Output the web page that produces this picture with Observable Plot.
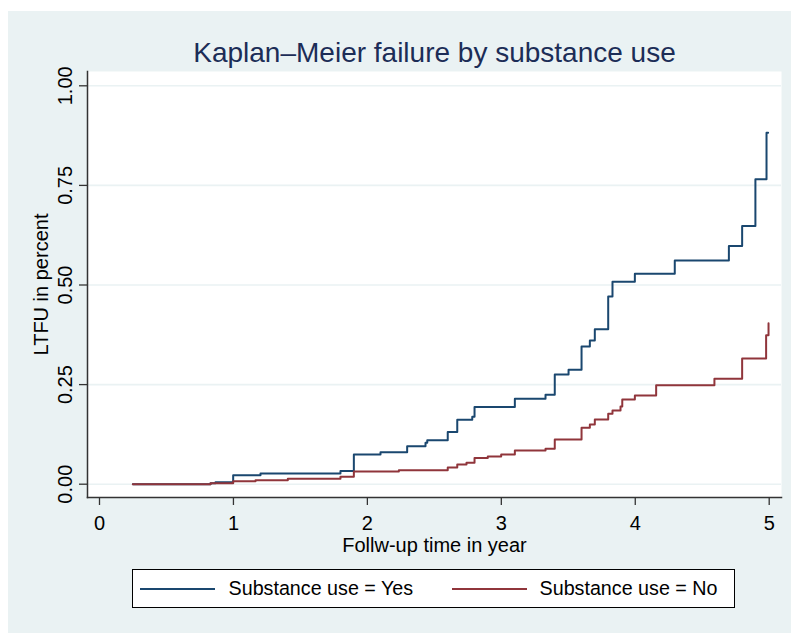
<!DOCTYPE html>
<html><head><meta charset="utf-8">
<script src="https://cdn.jsdelivr.net/npm/d3@7"></script>
<script src="https://cdn.jsdelivr.net/npm/@observablehq/plot@0.6"></script>
<style>
html,body{margin:0;padding:0;background:#fff;}
#wrap{position:absolute;left:8px;top:11px;width:783px;height:622px;background:#eaf2f3;font-family:"Liberation Sans",Arial,sans-serif;}
#chart{position:absolute;left:0;top:0;}
#legend{position:absolute;left:123.7px;top:558.3px;width:601.6px;height:37px;border:1px solid #000;background:#fff;font-size:19.7px;color:#000;}
#legend .sw{position:absolute;top:17.4px;height:2px;width:75px;}
#legend .lb{position:absolute;top:0;line-height:37px;white-space:nowrap;}
</style></head>
<body>
<div id="wrap"><div id="chart"></div><div id="legend"></div></div>
<script>
const titleText = "Kaplan–Meier failure by substance use";
const xLabel = "Follw-up time in year";
const yLabel = "LTFU in percent";
const seriesNames = ["Substance use = Yes", "Substance use = No"];
const seriesColors = ["#1a476f", "#90353b"];
const xTicks = [0, 1, 2, 3, 4, 5];
const xTickLabels = ["0", "1", "2", "3", "4", "5"];
const yTicks = [0, 0.25, 0.5, 0.75, 1];
const yTickLabels = ["0.00", "0.25", "0.50", "0.75", "1.00"];

const yesTime = [0.249, 0.829, 0.866, 0.998, 1.202, 1.799, 1.899, 2.098, 2.297, 2.434, 2.447, 2.600, 2.671, 2.783, 2.800, 3.101, 3.330, 3.399, 3.502, 3.599, 3.661, 3.698, 3.798, 3.830, 3.997, 4.295, 4.699, 4.798, 4.897, 4.980, 4.992];
const yesFail = [0, 0.0025, 0.005, 0.0226, 0.027, 0.033, 0.0746, 0.080, 0.0954, 0.104, 0.1105, 0.131, 0.1616, 0.169, 0.194, 0.2144, 0.2244, 0.2755, 0.287, 0.3456, 0.3607, 0.389, 0.471, 0.508, 0.528, 0.5615, 0.598, 0.6484, 0.7656, 0.882, 0.882];
const noTime = [0.249, 0.829, 0.998, 1.165, 1.406, 1.799, 1.899, 2.235, 2.600, 2.671, 2.740, 2.800, 2.899, 2.999, 3.101, 3.330, 3.399, 3.599, 3.661, 3.698, 3.798, 3.830, 3.890, 3.903, 3.997, 4.156, 4.591, 4.798, 4.977, 4.995];
const noFail = [0, 0.0025, 0.0075, 0.010, 0.0136, 0.019, 0.032, 0.035, 0.042, 0.0494, 0.0537, 0.066, 0.0695, 0.0746, 0.0847, 0.0889, 0.1124, 0.1416, 0.150, 0.1624, 0.1767, 0.185, 0.195, 0.2126, 0.2229, 0.2485, 0.2645, 0.3155, 0.374, 0.404];

const data = [
  ...yesTime.map((t, i) => ({group: seriesNames[0], t, f: yesFail[i]})),
  ...noTime.map((t, i) => ({group: seriesNames[1], t, f: noFail[i]}))
];

const font = '"Liberation Sans", Arial, sans-serif';
const axisColor = "#333";

const chart = Plot.plot({
  width: 783,
  height: 622,
  marginLeft: 79,
  marginRight: 10,
  marginTop: 60,
  marginBottom: 136,
  style: {background: "transparent", fontFamily: font, fontSize: "20px", color: "#000", overflow: "visible"},
  x: {domain: [0, 5], range: [91, 760.7]},
  y: {domain: [0, 1], range: [472.7, 74.3]},
  color: {domain: seriesNames, range: seriesColors},
  marks: [
    Plot.frame({fill: "white", stroke: null}),
    Plot.gridY(yTicks, {stroke: "#eaf2f3", strokeOpacity: 1, strokeWidth: 1.6}),
    Plot.frame({anchor: "left", stroke: axisColor, strokeWidth: 1.5}),
    Plot.frame({anchor: "bottom", stroke: axisColor, strokeWidth: 1.5}),
    Plot.axisX(xTicks, {tickSize: 8, tickPadding: 10, fontSize: 20, label: null, stroke: axisColor, strokeWidth: 1.3, fill: "#000", tickFormat: d => xTickLabels[xTicks.indexOf(d)]}),
    Plot.axisY(yTicks, {tickSize: 8, tickFormat: () => "", label: null, stroke: axisColor, strokeWidth: 1.3}),
    Plot.text(yTicks, {y: d => d, text: (d, i) => yTickLabels[i], frameAnchor: "left", dx: -16, rotate: -90, textAnchor: "middle", lineAnchor: "bottom", fontSize: 20, fill: "#000"}),
    Plot.text([yLabel], {text: d => d, frameAnchor: "left", dx: -39.5, rotate: -90, textAnchor: "middle", lineAnchor: "bottom", fontSize: 20, fill: "#000"}),
    Plot.text([xLabel], {text: d => d, frameAnchor: "bottom", dy: 54, lineAnchor: "bottom", fontSize: 20, fill: "#000"}),
    Plot.text([titleText], {text: d => d, frameAnchor: "top", dy: -10, lineAnchor: "bottom", fontSize: 28, fill: "#1c2d57"}),
    Plot.line(data, {x: "t", y: "f", z: "group", stroke: "group", curve: "step-after", strokeWidth: 2})
  ]
});
document.getElementById("chart").appendChild(chart);

// legend
const legend = document.getElementById("legend");
const swLeft = [7.3, 319.8];
const lbLeft = [95.9, 406.9];
seriesNames.forEach((name, i) => {
  const sw = document.createElement("div");
  sw.className = "sw";
  sw.style.left = swLeft[i] + "px";
  sw.style.background = seriesColors[i];
  legend.appendChild(sw);
  const lb = document.createElement("div");
  lb.className = "lb";
  lb.style.left = lbLeft[i] + "px";
  lb.textContent = name;
  legend.appendChild(lb);
});
</script>
</body></html>
